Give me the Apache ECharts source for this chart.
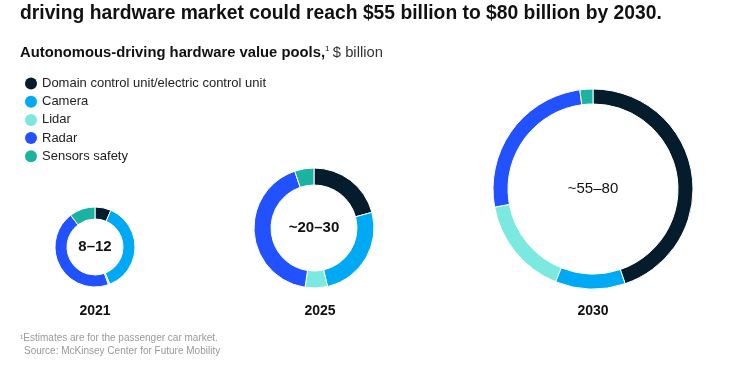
<!DOCTYPE html>
<html><head><meta charset="utf-8">
<script src="https://cdn.jsdelivr.net/npm/echarts@6/dist/echarts.min.js"></script>
<style>html,body{margin:0;padding:0;background:#fff}#c{width:750px;height:375px}</style>
</head><body><div id="c"></div>
<script>
const categories = ['Domain control unit/electric control unit', 'Camera', 'Lidar', 'Radar', 'Sensors safety'];
const colors = ['#051c2c', '#00a9f4', '#7be9df', '#2251ff', '#1ab3a1'];
const years = ['2021', '2025', '2030'];
const totals = ['8–12', '~20–30', '~55–80'];
// approximate share of each value pool (%), read from ring arcs
const share2021 = [6.5, 37.5, 0.6, 45, 10.4];
const share2025 = [20.8, 25.6, 6, 42.4, 5.2];
const share2030 = [44.8, 11.3, 16, 25.8, 2.1];

const shares = [share2021, share2025, share2030];
const centers = [[95, 247], [314, 228], [593, 189]];
const radii = [[28, 40], [43, 60], [85, 100]];
const font = '"Liberation Sans", Arial, sans-serif';

const chart = echarts.init(document.getElementById('c'));
const series = shares.map((vals, i) => ({
  type: 'pie',
  center: centers[i],
  radius: radii[i],
  startAngle: 90,
  clockwise: true,
  label: { show: false },
  labelLine: { show: false },
  silent: true,
  itemStyle: { borderColor: '#fff', borderWidth: 1 },
  data: vals.map((v, k) => ({ name: categories[k], value: v, itemStyle: { color: colors[k] } }))
}));

const graphics = [
  { type: 'text', left: 20, top: 4, style: { text: 'driving hardware market could reach $55 billion to $80 billion by 2030.', font: 'bold 19.3px ' + font, fill: '#111' } },
  { type: 'text', left: 20, top: 45, style: {
      text: '{b|Autonomous-driving hardware value pools,}{s|1} {n|$ billion}',
      rich: {
        b: { font: 'bold 14.8px ' + font, fill: '#111' },
        s: { font: '8px ' + font, fill: '#111', verticalAlign: 'top', padding: [0, 0, 7, 0] },
        n: { font: '14.8px ' + font, fill: '#333' }
      }
  } },
  { type: 'text', left: 20, top: 333, style: { text: '¹Estimates are for the passenger car market.', font: '10px ' + font, fill: '#999' } },
  { type: 'text', left: 24, top: 346, style: { text: 'Source: McKinsey Center for Future Mobility', font: '10px ' + font, fill: '#999' } }
];
centers.forEach((c, i) => {
  graphics.push({ type: 'text', x: c[0], y: c[1], style: { text: totals[i], font: (i < 2 ? 'bold ' : '') + '15px ' + font, fill: '#111', align: 'center', verticalAlign: 'middle' } });
  graphics.push({ type: 'text', x: c[0] + (i === 1 ? 6 : 0), y: 311, style: { text: years[i], font: 'bold 14px ' + font, fill: '#111', align: 'center', verticalAlign: 'middle' } });
});

chart.setOption({
  animation: false,
  color: colors,
  legend: {
    orient: 'vertical', left: 25, top: 77, padding: 0,
    icon: 'circle', itemWidth: 12, itemHeight: 12, itemGap: 5.2,
    textStyle: { fontFamily: font, fontSize: 13, lineHeight: 12, color: '#222', padding: [0, 0, 0, 0] },
    itemStyle: { borderWidth: 0 },
    data: categories, selectedMode: false
  },
  graphic: graphics,
  series: series
});
</script></body></html>
